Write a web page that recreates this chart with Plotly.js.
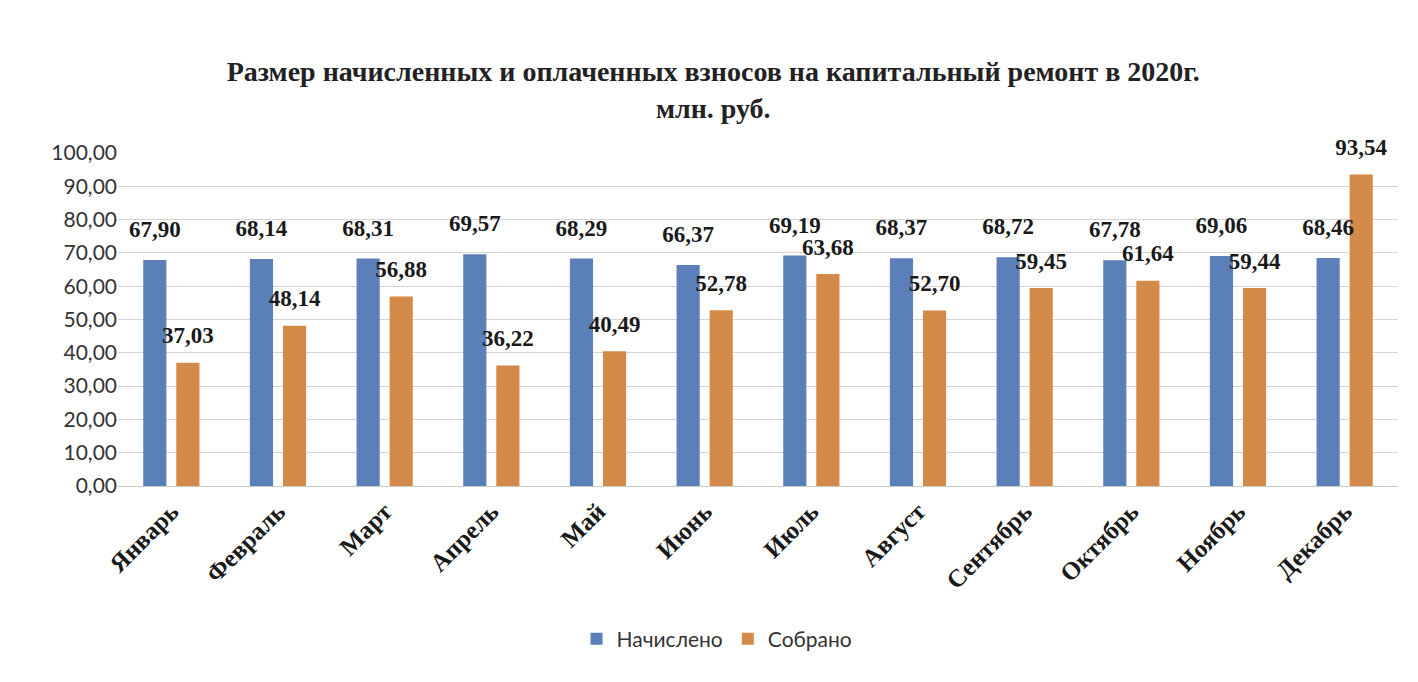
<!DOCTYPE html>
<html>
<head>
<meta charset="utf-8">
<script src="https://cdn.plot.ly/plotly-3.0.1.min.js"></script>
<style>html,body{margin:0;padding:0;background:#fff;}#chart{width:1418px;height:682px;}</style>
</head>
<body>
<div id="chart"></div>
<script>
const months = ["Январь","Февраль","Март","Апрель","Май","Июнь","Июль","Август","Сентябрь","Октябрь","Ноябрь","Декабрь"];
const accrued = [67.90,68.14,68.31,69.57,68.29,66.37,69.19,68.37,68.72,67.78,69.06,68.46];
const collected = [37.03,48.14,56.88,36.22,40.49,52.78,63.68,52.70,59.45,61.64,59.44,93.54];
const yTicks = [0,10,20,30,40,50,60,70,80,90,100];

const labelFont = {family:"Liberation Serif, Times New Roman, serif", size:23, color:"#1a1a1a", weight:"bold"};

const traces = [
  {type:"bar", name:"Начислено", x:months, y:accrued, offsetgroup:"a", marker:{color:"#5b7fb9"}, hoverinfo:"skip"},
  {type:"bar", name:"Собрано", x:months, y:collected, offsetgroup:"b", marker:{color:"#d38a48"}, hoverinfo:"skip"},
  {type:"scatter", mode:"markers+text", x:months, y:accrued, offsetgroup:"a", showlegend:false,
   marker:{size:26, opacity:0}, texttemplate:"<b>%{y:.2f}</b>", textposition:"top center",
   textfont:labelFont, cliponaxis:false, hoverinfo:"skip"},
  {type:"scatter", mode:"markers+text", x:months, y:collected, offsetgroup:"b", showlegend:false,
   marker:{size:20, opacity:0}, texttemplate:"<b>%{y:.2f}</b>", textposition:"top center",
   textfont:labelFont, cliponaxis:false, hoverinfo:"skip"}
];

const layout = {
  width:1418, height:682,
  margin:{l:118, r:20, t:153, b:196},
  paper_bgcolor:"#ffffff", plot_bgcolor:"#ffffff",
  separators:", ",
  title:{text:"<b>Размер начисленных и оплаченных взносов на капитальный ремонт в 2020г.</b><br><b>млн. руб.</b>",
         x:0.503, xanchor:"center", y:0.881, yanchor:"middle",
         font:{family:"Liberation Serif, Times New Roman, serif", size:28, color:"#222"}},
  barmode:"group", bargap:0.38, bargroupgap:0.3,
  scattermode:"group", scattergap:0.38,
  xaxis:{tickangle:-45, showgrid:false, showline:true, linecolor:"#c8c8c8", linewidth:1, ticks:"",
         tickfont:{family:"Liberation Serif, Times New Roman, serif", size:25, color:"#1a1a1a", weight:"bold"}},
  yaxis:{range:[0,100], tickvals:yTicks, tickformat:".2f", showgrid:true, gridcolor:"#d4d4d4", gridwidth:1,
         zeroline:false, showline:false, ticks:"", ticklen:8, tickcolor:"rgba(0,0,0,0)",
         tickfont:{family:"Lato, Open Sans, sans-serif", size:21, color:"#333"}},
  legend:{orientation:"h", x:0.468, xanchor:"center", y:-0.46, yanchor:"middle",
          font:{family:"Lato, Open Sans, sans-serif", size:21, color:"#333"}, itemwidth:30},
  showlegend:true
};

Plotly.newPlot("chart", traces, layout, {displayModeBar:false, staticPlot:true});
</script>
</body>
</html>
